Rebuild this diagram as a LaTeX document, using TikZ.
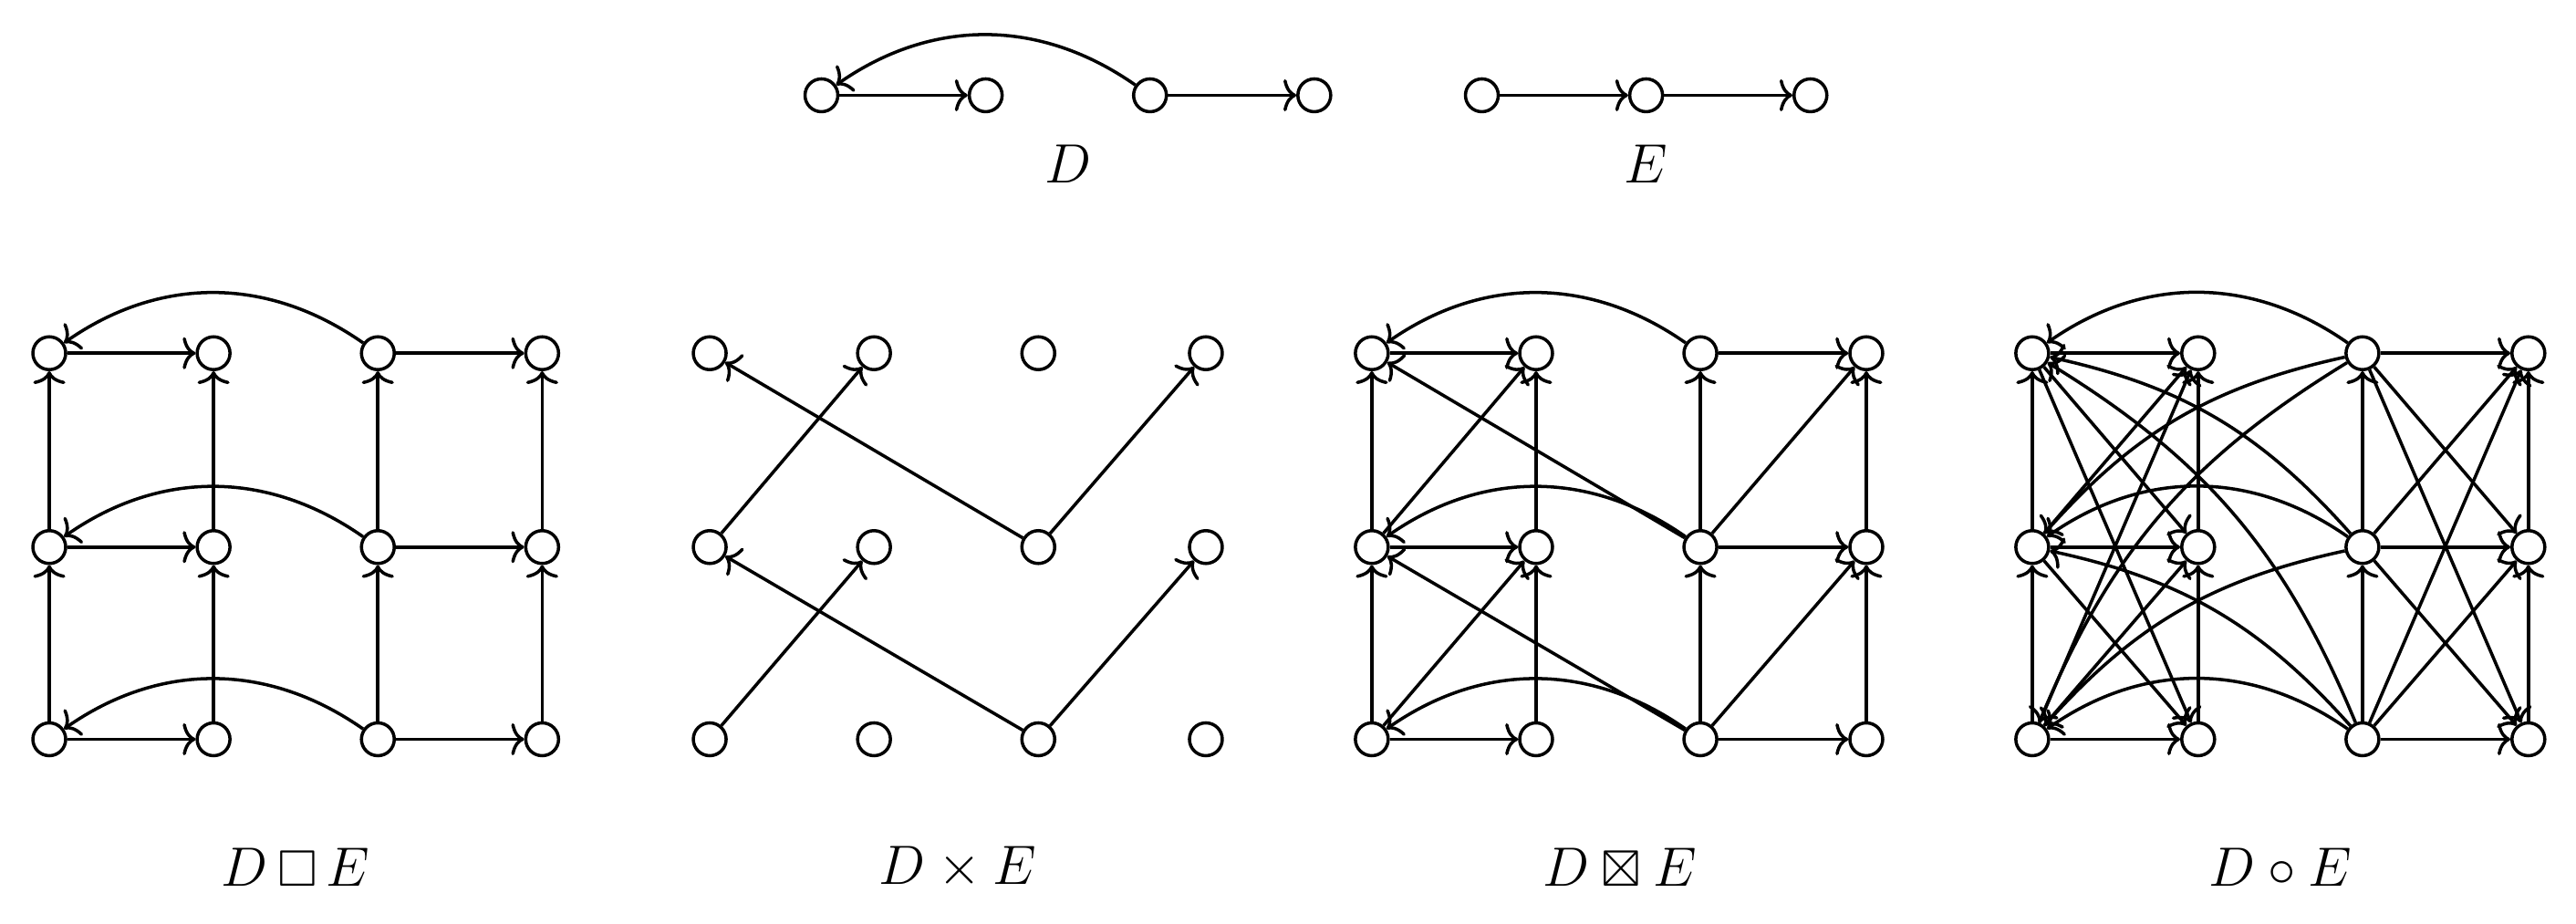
\documentclass[tikz,border=0pt]{standalone}
\usepackage{amssymb}
\usetikzlibrary{arrows.meta}
\begin{document}
\begin{tikzpicture}[x=0.01801cm,y=-0.01801cm,
  vtx/.style={circle,draw,line width=1pt,minimum size=0.36cm,inner sep=0pt},
  arc/.style={line width=1pt,-{Computer Modern Rightarrow[length=4pt,width=10pt]}},
  lbl/.style={font=\fontsize{16}{19}\selectfont}]
\useasboundingbox (0,0) rectangle (1568,562);
% top D
\foreach \i/\x in {1/500,2/600,3/700,4/800} \node[vtx] (D\i) at (\x,58) {};
\draw[arc] (D1) -- (D2);
\draw[arc] (D3) to[bend right=35] (D1);
\draw[arc] (D3) -- (D4);
\node[lbl] (LD) at (650,100) {$D$};
% top E
\foreach \i/\x in {1/902,2/1002,3/1102} \node[vtx] (E\i) at (\x,58) {};
\draw[arc] (E1) -- (E2);
\draw[arc] (E2) -- (E3);
\node[lbl] (LE) at (1002,100) {$E$};
% grids
\foreach \g/\xa/\xb/\xc/\xd in {a/30/130/230/330, b/432/532/632/734, c/835/935/1035/1136, d/1237/1338/1438/1539}{
  \foreach \j/\y in {1/450,2/333,3/215}{
    \node[vtx] (\g1\j) at (\xa,\y) {};
    \node[vtx] (\g2\j) at (\xb,\y) {};
    \node[vtx] (\g3\j) at (\xc,\y) {};
    \node[vtx] (\g4\j) at (\xd,\y) {};
  }
}
% Cartesian (a) and strong (c): horizontal + vertical
\foreach \g in {a,c}{
  \foreach \j in {1,2,3}{
    \draw[arc] (\g1\j) -- (\g2\j);
    \draw[arc] (\g3\j) to[bend right=35] (\g1\j);
    \draw[arc] (\g3\j) -- (\g4\j);
  }
  \foreach \i in {1,2,3,4}{
    \draw[arc] (\g\i1) -- (\g\i2);
    \draw[arc] (\g\i2) -- (\g\i3);
  }
}
% direct (b) and strong (c) diagonals
\foreach \g in {b,c}{
  \foreach \j/\k in {1/2,2/3}{
    \draw[arc] (\g1\j) -- (\g2\k);
    \draw[arc] (\g3\j) -- (\g1\k);
    \draw[arc] (\g3\j) -- (\g4\k);
  }
}
% lexicographic (d)
\foreach \i in {1,2,3,4}{
  \draw[arc] (d\i1) -- (d\i2);
  \draw[arc] (d\i2) -- (d\i3);
}
\foreach \j in {1,2,3}{
  \foreach \k in {1,2,3}{
    \draw[arc] (d1\j) -- (d2\k);
    \draw[arc] (d3\j) -- (d4\k);
  }
  \draw[arc] (d3\j) to[bend right=35] (d1\j);
}
\foreach \j/\k in {1/2,1/3,2/3,2/1,3/1,3/2}{
  \draw[arc] (d3\j) to[bend right=18] (d1\k);
}
% labels
\node[lbl] (La) at (180,528) {$D\,\square\,E$};
\node[lbl] (Lb) at (583,528) {$D\times E$};
\node[lbl] (Lc) at (986,528) {$D\boxtimes E$};
\node[lbl] (Ld) at (1388,528) {$D\circ E$};
\end{tikzpicture}
\end{document}
